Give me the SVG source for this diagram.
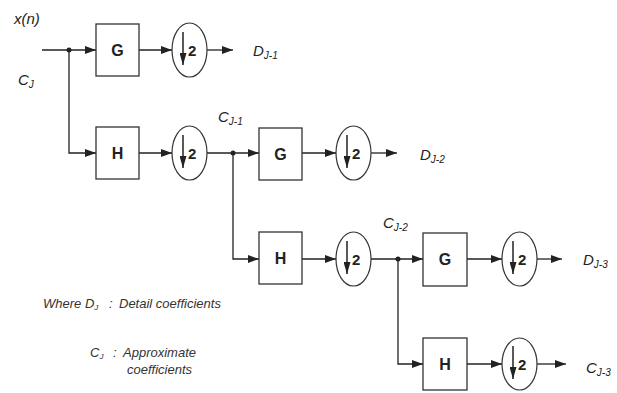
<svg xmlns="http://www.w3.org/2000/svg" width="617" height="393" viewBox="0 0 617 393">
<defs>
<marker id="ah" markerWidth="11" markerHeight="8" refX="11" refY="4" orient="auto" markerUnits="userSpaceOnUse"><path d="M0,0 L11,4 L0,8 z" fill="#222"/></marker>
<marker id="dn" markerWidth="12" markerHeight="7" refX="12" refY="3.5" orient="auto" markerUnits="userSpaceOnUse"><path d="M0,0 L12,3.5 L0,7 z" fill="#222"/></marker>
<style>
.box{fill:#fff;stroke:#333;stroke-width:1.3}
.ell{fill:#fff;stroke:#333;stroke-width:1.2}
.con{fill:none;stroke:#222;stroke-width:1.3}
.ar{fill:none;stroke:#222;stroke-width:1.5}
.bl{font-family:"Liberation Sans",Arial,sans-serif;font-weight:bold;font-size:16px;fill:#222;text-anchor:middle}
.two{font-family:"Liberation Sans",Arial,sans-serif;font-weight:bold;font-size:15px;fill:#222}
.lab{font-family:"Liberation Sans",Arial,sans-serif;font-style:italic;font-size:15px;fill:#222}
.sub{font-size:10px}
.leg{font-family:"Liberation Sans",Arial,sans-serif;font-style:italic;font-size:13px;fill:#333}
.dot{fill:#222}
</style>
</defs>
<g id="connectors">
<path class="con" d="M42,50 H96" marker-end="url(#ah)"/>
<path class="con" d="M139,50 H172" marker-end="url(#ah)"/>
<path class="con" d="M207,50 H233" marker-end="url(#ah)"/>
<path class="con" d="M69,50 V153 H96" marker-end="url(#ah)"/>
<path class="con" d="M139,153 H172" marker-end="url(#ah)"/>
<path class="con" d="M207,153 H259" marker-end="url(#ah)"/>
<path class="con" d="M302,153 H336" marker-end="url(#ah)"/>
<path class="con" d="M371,153 H397" marker-end="url(#ah)"/>
<path class="con" d="M233,153 V259 H259" marker-end="url(#ah)"/>
<path class="con" d="M302,259 H336" marker-end="url(#ah)"/>
<path class="con" d="M371,259 H423" marker-end="url(#ah)"/>
<path class="con" d="M467,259 H502" marker-end="url(#ah)"/>
<path class="con" d="M537,259 H562" marker-end="url(#ah)"/>
<path class="con" d="M398,259 V364 H423" marker-end="url(#ah)"/>
<path class="con" d="M467,364 H502" marker-end="url(#ah)"/>
<path class="con" d="M537,364 H566" marker-end="url(#ah)"/>
<circle class="dot" cx="69" cy="50" r="2.5"/>
<circle class="dot" cx="233" cy="153" r="2.5"/>
<circle class="dot" cx="398" cy="259" r="2.5"/>
</g>
<g id="G1"><rect class="box" x="96" y="24" width="43" height="52"/><text class="bl" x="117.5" y="56">G</text></g>
<g id="D1"><ellipse class="ell" cx="189.5" cy="50" rx="17.5" ry="27"/><path class="ar" d="M183,32 V65" marker-end="url(#dn)"/><text class="two" x="188" y="56">2</text></g>
<g id="H1"><rect class="box" x="96" y="127" width="43" height="52"/><text class="bl" x="117.5" y="159">H</text></g>
<g id="D2"><ellipse class="ell" cx="189.5" cy="153" rx="17.5" ry="27"/><path class="ar" d="M183,135 V168" marker-end="url(#dn)"/><text class="two" x="188" y="159">2</text></g>
<g id="G2"><rect class="box" x="259" y="128" width="43" height="52"/><text class="bl" x="280.5" y="160">G</text></g>
<g id="D3"><ellipse class="ell" cx="353.5" cy="153" rx="17.5" ry="27"/><path class="ar" d="M347,135 V168" marker-end="url(#dn)"/><text class="two" x="352" y="159">2</text></g>
<g id="H2"><rect class="box" x="259" y="232" width="43" height="52"/><text class="bl" x="280.5" y="264">H</text></g>
<g id="D4"><ellipse class="ell" cx="353.5" cy="259" rx="17.5" ry="27"/><path class="ar" d="M347,241 V274" marker-end="url(#dn)"/><text class="two" x="352" y="265">2</text></g>
<g id="G3"><rect class="box" x="423" y="233" width="44" height="53"/><text class="bl" x="445" y="265">G</text></g>
<g id="D5"><ellipse class="ell" cx="519.5" cy="259" rx="17.5" ry="27"/><path class="ar" d="M513,241 V274" marker-end="url(#dn)"/><text class="two" x="518" y="265">2</text></g>
<g id="H3"><rect class="box" x="423" y="338" width="44" height="52"/><text class="bl" x="445" y="370">H</text></g>
<g id="D6"><ellipse class="ell" cx="519.5" cy="364" rx="17.5" ry="26"/><path class="ar" d="M513,346 V379" marker-end="url(#dn)"/><text class="two" x="518" y="370">2</text></g>
<g id="labels">
<text class="lab" x="14" y="24">x(n)</text>
<text class="lab" x="18" y="85">C<tspan class="sub" dy="3">J</tspan></text>
<text class="lab" x="253" y="56">D<tspan class="sub" dy="3">J-1</tspan></text>
<text class="lab" x="218" y="122">C<tspan class="sub" dy="3">J-1</tspan></text>
<text class="lab" x="420" y="160">D<tspan class="sub" dy="3">J-2</tspan></text>
<text class="lab" x="383" y="228">C<tspan class="sub" dy="3">J-2</tspan></text>
<text class="lab" x="583" y="265">D<tspan class="sub" dy="3">J-3</tspan></text>
<text class="lab" x="586" y="373">C<tspan class="sub" dy="3">J-3</tspan></text>
</g>
<g id="legend">
<text class="leg" x="43" y="308">Where D<tspan font-size="8" dy="2">J</tspan></text>
<text class="leg" x="109" y="308">:</text>
<text class="leg" x="119" y="308">Detail coefficients</text>
<text class="leg" x="90" y="357">C<tspan font-size="8" dy="2">J</tspan></text>
<text class="leg" x="113" y="357">:</text>
<text class="leg" x="123" y="357">Approximate</text>
<text class="leg" x="127" y="374">coefficients</text>
</g>
</svg>
